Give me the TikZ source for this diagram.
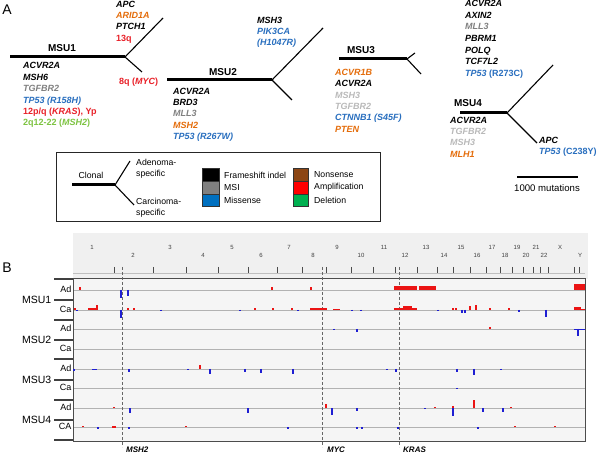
\documentclass[tikz,border=0pt]{standalone}
\usepackage{fontspec}
\setmainfont{Liberation Sans}
\definecolor{oT}{RGB}{228,108,10}
\definecolor{bT}{RGB}{40,110,190}
\definecolor{gT}{RGB}{128,128,128}
\definecolor{lT}{RGB}{185,185,185}
\definecolor{rT}{RGB}{232,32,40}
\definecolor{grT}{RGB}{125,195,65}
\definecolor{lgBrown}{RGB}{140,70,20}
\definecolor{lgRed}{RGB}{255,0,0}
\definecolor{lgGreen}{RGB}{0,176,80}
\definecolor{lgBlue}{RGB}{0,112,192}
\definecolor{lgGray}{RGB}{128,128,128}
\definecolor{ampR}{RGB}{235,20,20}
\definecolor{delB}{RGB}{30,30,210}
\newcommand\genefnt{\fontsize{9}{11.4}\selectfont\bfseries\itshape}
\begin{document}
\begin{tikzpicture}[x=1pt,y=-1pt,
  trunk/.style={line width=3pt},
  branch/.style={line width=1.1pt},
  genes/.style={anchor=north west,align=left,inner sep=0pt,font=\genefnt},
  msulab/.style={inner sep=0pt,font=\fontsize{10}{12}\selectfont\bfseries},
  legtxt/.style={anchor=west,inner sep=0pt,font=\fontsize{8.7}{10}\selectfont},
  swatch/.style={draw=black!80,line width=0.6pt},
  chrlab/.style={inner sep=0pt,font=\fontsize{6}{7}\selectfont,text=black!75},
  rowlab/.style={anchor=east,inner sep=0pt,font=\fontsize{9}{10}\selectfont},
  msub/.style={anchor=east,inner sep=0pt,font=\fontsize{10.5}{12}\selectfont},
  sep/.style={line width=1.4pt,black!75},
  grid/.style={black!30,line width=0.7pt},
  dline/.style={black!60,line width=0.8pt,dash pattern=on 3pt off 2pt},
  amp/.style={ampR,line width=1.1pt},
  del/.style={delB,line width=1.2pt},
  genelab/.style={anchor=west,inner sep=0pt,font=\fontsize{8}{9}\selectfont\bfseries\itshape}]
\useasboundingbox (0,0) rectangle (600,454);
% ===== Panel A =====
\node[inner sep=0pt,font=\fontsize{14}{16}\selectfont] (pA) at (7,10) {A};
% MSU1
\coordinate (t1s) at (10,57); \coordinate (t1e) at (125,57);
\coordinate (t1u) at (163,18); \coordinate (t1d) at (142,72);
\draw[trunk] (t1s) -- (t1e);
\draw[branch] (t1e) -- (t1u); \draw[branch] (t1e) -- (t1d);
\node[msulab] (l1) at (62,48) {MSU1};
\node[genes] (g1u) at (116,0.6) {APC\\{\color{oT}ARID1A}\\PTCH1\\{\color{rT}\upshape 13q}};
\node[genes,anchor=west] (g1m) at (119,82) {\color{rT}\upshape 8q (\itshape MYC\upshape)};
\node[genes] (g1d) at (23,62.5) {ACVR2A\\MSH6\\{\color{gT}TGFBR2}\\{\color{bT}TP53 (R158H)}\\{\color{rT}\upshape 12p/q (\itshape KRAS\upshape), Yp}\\{\color{grT}\upshape 2q12-22 (\itshape MSH2\upshape)}};
% MSU2
\coordinate (t2s) at (167,80); \coordinate (t2e) at (272,80);
\coordinate (t2u) at (323,28); \coordinate (t2d) at (292,100);
\draw[trunk] (t2s) -- (t2e);
\draw[branch] (t2e) -- (t2u); \draw[branch] (t2e) -- (t2d);
\node[msulab] (l2) at (223,72) {MSU2};
\node[genes] (g2u) at (257,16.6) {MSH3\\{\color{bT}PIK3CA}\\{\color{bT}(H1047R)}};
\node[genes] (g2d) at (173,87.6) {ACVR2A\\BRD3\\{\color{gT}MLL3}\\{\color{oT}MSH2}\\{\color{bT}TP53 (R267W)}};
% MSU3
\coordinate (t3s) at (339,59); \coordinate (t3e) at (407,59);
\coordinate (t3u) at (415,53); \coordinate (t3d) at (421,74);
\draw[trunk] (t3s) -- (t3e);
\draw[branch] (t3e) -- (t3u); \draw[branch] (t3e) -- (t3d);
\node[msulab] (l3) at (361,50) {MSU3};
\node[genes] (g3d) at (335,68.8) {{\color{oT}ACVR1B}\\ACVR2A\\{\color{lT}MSH3}\\{\color{lT}TGFBR2}\\{\color{bT}CTNNB1 (S45F)}\\{\color{oT}PTEN}};
% MSU4
\coordinate (t4s) at (460,113); \coordinate (t4e) at (507,113);
\coordinate (t4u) at (553,65); \coordinate (t4d) at (537,143);
\draw[trunk] (t4s) -- (t4e);
\draw[branch] (t4e) -- (t4u); \draw[branch] (t4e) -- (t4d);
\node[msulab] (l4) at (468,103) {MSU4};
\node[genes,font=\fontsize{9}{11.7}\selectfont\bfseries\itshape] (g4u) at (465,0) {ACVR2A\\AXIN2\\{\color{gT}MLL3}\\PBRM1\\POLQ\\TCF7L2\\{\color{bT}TP53 \upshape(R273C)}};
\node[genes] (g4d) at (450,116.6) {ACVR2A\\{\color{lT}TGFBR2}\\{\color{lT}MSH3}\\{\color{oT}MLH1}};
\node[genes] (g4e) at (539,136.6) {APC\\{\color{bT}TP53 \upshape(C238Y)}};
% scale bar
\coordinate (sb1) at (517,177); \coordinate (sb2) at (578,177);
\draw[line width=2.2pt] (sb1) -- (sb2);
\node[inner sep=0pt,font=\fontsize{9.6}{11}\selectfont] (sbl) at (547,188) {1000 mutations};
% legend
\node[draw=black!85,line width=0.9pt,minimum width=324pt,minimum height=69pt,inner sep=0pt,anchor=north west] (leg) at (56,152) {};
\coordinate (c1) at (72,185); \coordinate (c2) at (115,185);
\coordinate (c3) at (130,161); \coordinate (c4) at (134,205);
\draw[trunk] (c1) -- (c2);
\draw[branch] (c2) -- (c3); \draw[branch] (c2) -- (c4);
\node[inner sep=0pt,font=\fontsize{8.7}{10}\selectfont] (clon) at (91,175) {Clonal};
\node[inner sep=0pt,anchor=north west,align=left,font=\fontsize{8.7}{11}\selectfont] (aden) at (136,158.5) {Adenoma-\\specific};
\node[inner sep=0pt,anchor=north west,align=left,font=\fontsize{8.7}{11}\selectfont] (carc) at (136,197.5) {Carcinoma-\\specific};
\draw[swatch,fill=black] (202,168) rectangle (219,181);
\draw[swatch,fill=lgGray] (202,181) rectangle (219,194);
\draw[swatch,fill=lgBlue] (202,194) rectangle (219,206.5);
\draw[swatch,fill=lgBrown] (293,168) rectangle (308,181);
\draw[swatch,fill=lgRed] (293,181) rectangle (308,194);
\draw[swatch,fill=lgGreen] (293,194) rectangle (308,206.5);
\node[legtxt] (lf) at (224,175) {Frameshift indel};
\node[legtxt] (lm) at (224,187.5) {MSI};
\node[legtxt] (lmi) at (224,200) {Missense};
\node[legtxt] (ln) at (314,175) {Nonsense};
\node[legtxt] (la) at (314,187.5) {Amplification};
\node[legtxt] (ld) at (314,200) {Deletion};
% ===== Panel B =====
\node[inner sep=0pt,font=\fontsize{14}{16}\selectfont] (pB) at (7,268) {B};
\fill[black!6] (73,233) rectangle (588,279);
\fill[black!4] (73,279) rectangle (585,441);
% chromosome labels
\foreach \n/\x/\y in {1/92/247,2/133/255,3/170/247,4/203/255,5/232/247,6/261/255,7/289/247,8/313/255,9/337/247,10/361/255,11/384/247,12/405/255,13/426/247,14/444/255,15/461/247,16/477/255,17/492/247,18/505/255,19/517/247,20/526/255,21/536/247,22/544/255,X/560/247,Y/580/255}
  \node[chrlab] (chr\n) at (\x,\y) {\n};
\draw[black!25,line width=0.5pt] (73,273) -- (585,273);
\foreach \x in {114,153,186,218,248,277,302,326,351,373,395,417,437,453,470,486,500,512,523,533,540,548,574,579}
  \draw[black!70,line width=0.6pt] (\x,267) -- (\x,273);
% grid rows
\foreach \y in {290,310,329,349,369,388,408,427}
  \draw[grid] (73,\y) -- (585,\y);
% plot frame
\draw[black!70,line width=1pt] (73,279) -- (585,279) -- (585,441) -- (73,441) -- cycle;
% separators on the left
\foreach \y in {279,300,320,340,359,380,400,420,440}
  \draw[sep] (54,\y) -- (73,\y);
% row labels
\foreach \y/\t [count=\i] in {289/Ad,309/Ca,328/Ad,348/Ca,368/Ad,387/Ca,407/Ad,426/CA}
  \node[rowlab] (rl\i) at (71.5,\y) {\t};
\foreach \y/\t in {300/1,340/2,380/3,420/4}
  \node[msub] (ms\t) at (51.5,\y) {MSU\t};
% dashed gene lines
\coordinate (dA1) at (122,267); \coordinate (dA2) at (122,447);
\coordinate (dB1) at (322,267); \coordinate (dB2) at (322,447);
\coordinate (dC1) at (399,267); \coordinate (dC2) at (399,447);
\draw[dline] (dA1) -- (dA2);
\draw[dline] (dB1) -- (dB2);
\draw[dline] (dC1) -- (dC2);
\node[genelab] (gMSH2) at (126,450) {MSH2};
\node[genelab] (gMYC) at (327,450) {MYC};
\node[genelab] (gKRAS) at (403,450) {KRAS};
% ---- data: amplifications (up) and deletions (down)
% MSU1 Ad
\foreach \x/\h in {80/3,272/3,311/3} \draw[amp] (\x,290) -- ++(0,-\h);
\foreach \x/\h in {121/8,128/6} \draw[del] (\x,290) -- ++(0,\h);
\fill[ampR] (394,286) rectangle (417,290);
\fill[ampR] (419,286) rectangle (436,290);
\fill[ampR] (574,284) rectangle (585,290);
% MSU1 Ca
\foreach \x/\h in {75/2,97/5,128/1.5,134/1.5,255/1.5,273/2,292/2,453/1.5,456/2,470/4,476/5,490/1.5,509/1.5} \draw[amp] (\x,310) -- ++(0,-\h);
\foreach \x/\h in {77/1.5,121/8,161/1.5,240/1.5,298/1.5,352/1.5,361/1.5,438/1.5,462/3,465/3,519/2,546/7} \draw[del] (\x,310) -- ++(0,\h);
\fill[ampR] (88,308.5) rectangle (98,310);
\fill[ampR] (310,308) rectangle (327,310);
\fill[ampR] (333,309) rectangle (340,310);
\fill[ampR] (394,308) rectangle (417,310);
\fill[ampR] (403,306.5) rectangle (412,310);
\fill[ampR] (574,307) rectangle (581,310);
\fill[ampR] (581,309) rectangle (585,310);
% MSU2 Ad
\foreach \x/\h in {490/1.5} \draw[amp] (\x,329) -- ++(0,-\h);
\foreach \x/\h in {334/1,357/3,578/7} \draw[del] (\x,329) -- ++(0,\h);
\fill[delB] (574,329) rectangle (585,330);
% MSU3 Ad
\foreach \x/\h in {200/4} \draw[amp] (\x,369) -- ++(0,-\h);
\foreach \x/\h in {74/2,129/3,188/1,210/5,245/3,261/4,293/5,387/1.5,396/3,457/3,474/6,501/1} \draw[del] (\x,369) -- ++(0,\h);
\fill[delB] (92,369) rectangle (97,370);
% MSU3 Ca
\draw[del] (457,388) -- ++(0,1.5);
% MSU4 Ad
\foreach \x/\h in {114/1.5,326/4,435/1.5,453/2,474/8,511/1.5} \draw[amp] (\x,408) -- ++(0,-\h);
\foreach \x/\h in {130/5,248/5,332/7,357/3,425/1,453/8,483/4,503/4} \draw[del] (\x,408) -- ++(0,\h);
% MSU4 CA
\foreach \x/\h in {83/1.5,186/1.5,515/1.5,555/1.5} \draw[amp] (\x,427) -- ++(0,-\h);
\foreach \x/\h in {98/1.5,129/1.5,288/1.5,357/1.5,362/1.5,398/1.5,478/1.5} \draw[del] (\x,427) -- ++(0,\h);
\fill[ampR] (112,426) rectangle (116,428);
\end{tikzpicture}
\end{document}
